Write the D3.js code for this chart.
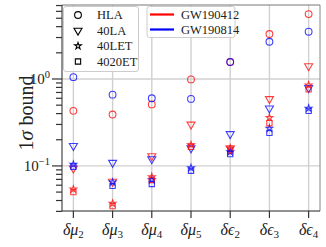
<!DOCTYPE html>
<html><head><meta charset="utf-8">
<script src="https://cdn.jsdelivr.net/npm/d3@7"></script>
<style>body{margin:0;background:#fff}svg{display:block}</style>
</head><body><svg id="c" width="326" height="247"></svg>
<script>
const categories = ["δμ2","δμ3","δμ4","δμ5","δϵ2","δϵ3","δϵ4"];
const detectors = ["HLA","40LA","40LET","4020ET"];
const events = ["GW190412","GW190814"];
const eventColors = ["#ff0000","#0000ff"];
// GW190412 (red)
const gw190412_HLA    = [0.43, 0.39, 0.51, 0.99, 1.57, 3.29, 5.58];
const gw190412_40LA   = [0.094, 0.066, 0.13, 0.30, 0.16, 0.59, 1.41];
const gw190412_40LET  = [0.054, 0.037, 0.075, 0.174, 0.16, 0.36, 0.85];
const gw190412_4020ET = [0.050, 0.0345, 0.069, 0.166, 0.15, 0.31, 0.76];
// GW190814 (blue)
const gw190814_HLA    = [1.05, 0.66, 0.60, 0.59, 1.57, 2.68, 3.5];
const gw190814_40LA   = [0.17, 0.109, 0.12, 0.16, 0.233, 0.46, 0.79];
const gw190814_40LET  = [0.104, 0.065, 0.069, 0.095, 0.145, 0.27, 0.46];
const gw190814_4020ET = [0.098, 0.059, 0.062, 0.088, 0.137, 0.24, 0.43];
const majorTicks = [0.1, 1];
const majorTickExp = ["−1", "0"];
const minorTicks = [0.03,0.04,0.05,0.06,0.07,0.08,0.09,0.2,0.3,0.4,0.5,0.6,0.7,0.8,0.9,2,3,4,5,6,7];

const seriesValues = [
  [gw190412_HLA, gw190412_40LA, gw190412_40LET, gw190412_4020ET],
  [gw190814_HLA, gw190814_40LA, gw190814_40LET, gw190814_4020ET]
];

const svg = d3.select("#c");
const L = 62, R = 320, T = 5, B = 211;
const x = d3.scaleLinear().domain([-0.29, categories.length - 1 + 0.29]).range([L, R]);
const y = d3.scaleLog().domain([0.0303, 7.1]).range([B, T]);
const serif = "'Liberation Serif','DejaVu Serif',serif";

// grid
const g = svg.append("g");
g.selectAll("line.vg").data(categories).join("line")
  .attr("x1", (d,i)=>x(i)).attr("x2",(d,i)=>x(i)).attr("y1",T).attr("y2",B)
  .attr("stroke","#d0d0d0").attr("stroke-width",1.4);
g.selectAll("line.hg").data(majorTicks).join("line")
  .attr("x1",L).attr("x2",R).attr("y1",d=>y(d)).attr("y2",d=>y(d))
  .attr("stroke","#d0d0d0").attr("stroke-width",1.4);

// symbols
function symPath(k){
  if (k===0) return d3.symbol(d3.symbolCircle, 36)();
  if (k===1) return d3.symbol(d3.symbolTriangle, 28)();
  if (k===2) return d3.symbol(d3.symbolStar, 14)();
  return d3.symbol(d3.symbolSquare, 28)();
}
function symTransform(k, px, py){
  if (k===1) return `translate(${px},${py}) rotate(180)`;
  return `translate(${px},${py})`;
}

const marks = svg.append("g");
for (let d = 0; d < detectors.length; d++) {
  for (let e = 0; e < events.length; e++) {
    const vals = seriesValues[e][d];
    marks.append("g").selectAll("path").data(vals).join("path")
      .attr("d", symPath(d))
      .attr("transform", (v,i)=>symTransform(d, x(i), y(v)))
      .attr("fill","none").attr("stroke", eventColors[e]).attr("stroke-opacity",0.75)
      .attr("stroke-width",1.1);
  }
}

// spines
const sp = svg.append("g").attr("fill","none").attr("stroke-width",1);
sp.append("line").attr("x1",L).attr("x2",R).attr("y1",T).attr("y2",T).attr("stroke","#777");
sp.append("line").attr("x1",R).attr("x2",R).attr("y1",T).attr("y2",B).attr("stroke","#888");
sp.append("line").attr("x1",L).attr("x2",L).attr("y1",T).attr("y2",B).attr("stroke","#222");
sp.append("line").attr("x1",L).attr("x2",R).attr("y1",B).attr("y2",B).attr("stroke","#222");

// y ticks
const ax = svg.append("g");
ax.selectAll("line.mn").data(minorTicks).join("line")
  .attr("x1",L-6).attr("x2",L).attr("y1",d=>y(d)).attr("y2",d=>y(d))
  .attr("stroke","#333").attr("stroke-width",1.2);
ax.selectAll("line.mj").data(majorTicks).join("line")
  .attr("x1",L-10).attr("x2",L).attr("y1",d=>y(d)).attr("y2",d=>y(d))
  .attr("stroke","#333").attr("stroke-width",1.2);
const yl = ax.selectAll("text.yl").data(majorTicks).join("text")
  .attr("x",L-12).attr("y",d=>y(d)+5).attr("text-anchor","end")
  .attr("font-family",serif).attr("font-size",15).attr("fill","#222");
yl.append("tspan").text("10");
yl.append("tspan").attr("dy",-6).attr("font-size",10.5).text((d,i)=>majorTickExp[i]);

// x ticks
ax.selectAll("line.xt").data(categories).join("line")
  .attr("x1",(d,i)=>x(i)).attr("x2",(d,i)=>x(i)).attr("y1",B).attr("y2",B+7)
  .attr("stroke","#333").attr("stroke-width",1.2);
const xl = ax.selectAll("text.xl").data(categories).join("text")
  .attr("x",(d,i)=>x(i)).attr("y",B+24).attr("text-anchor","middle")
  .attr("font-family",serif).attr("font-size",16).attr("fill","#222");
xl.append("tspan").attr("font-style","italic").text(d=>d.slice(0,-1));
xl.append("tspan").attr("dy",3).attr("font-size",11).text(d=>d.slice(-1));

// y label
const ylab = svg.append("text").attr("transform",`translate(33,${(T+B)/2 + 5}) rotate(-90)`)
  .attr("text-anchor","middle").attr("font-family",serif).attr("font-size",20).attr("fill","#222");
ylab.append("tspan").text("1");
ylab.append("tspan").attr("font-style","italic").text("σ");
ylab.append("tspan").text(" bound");

// legend 1 (detectors)
const lg1 = svg.append("g");
lg1.append("rect").attr("x",L+1.5).attr("y",T+1.5).attr("width",75).attr("height",65).attr("rx",2.5)
  .attr("fill","#fff").attr("fill-opacity",0.85).attr("stroke","#ccc");
lg1.selectAll("path").data(detectors).join("path")
  .attr("d",(d,i)=>symPath(i))
  .attr("transform",(d,i)=>symTransform(i, L+16, T+10 + i*15.5))
  .attr("fill","none").attr("stroke","#000").attr("stroke-width",1.1);
lg1.selectAll("text").data(detectors).join("text")
  .attr("x",L+35).attr("y",(d,i)=>T+14 + i*15.5)
  .attr("font-family",serif).attr("font-size",12.5).attr("fill","#222").text(d=>d);

// legend 2 (events)
const lg2 = svg.append("g");
lg2.append("rect").attr("x",147).attr("y",T+1.5).attr("width",88).attr("height",31).attr("rx",2.5)
  .attr("fill","#fff").attr("fill-opacity",0.85).attr("stroke","#ccc");
lg2.selectAll("line").data(events).join("line")
  .attr("x1",150).attr("x2",174).attr("y1",(d,i)=>T+9.5+i*15).attr("y2",(d,i)=>T+9.5+i*15)
  .attr("stroke",(d,i)=>eventColors[i]).attr("stroke-width",2.2);
lg2.selectAll("text").data(events).join("text")
  .attr("x",181).attr("y",(d,i)=>T+13.5+i*15)
  .attr("font-family",serif).attr("font-size",12.5).attr("fill","#222").text(d=>d);
</script></body></html>
